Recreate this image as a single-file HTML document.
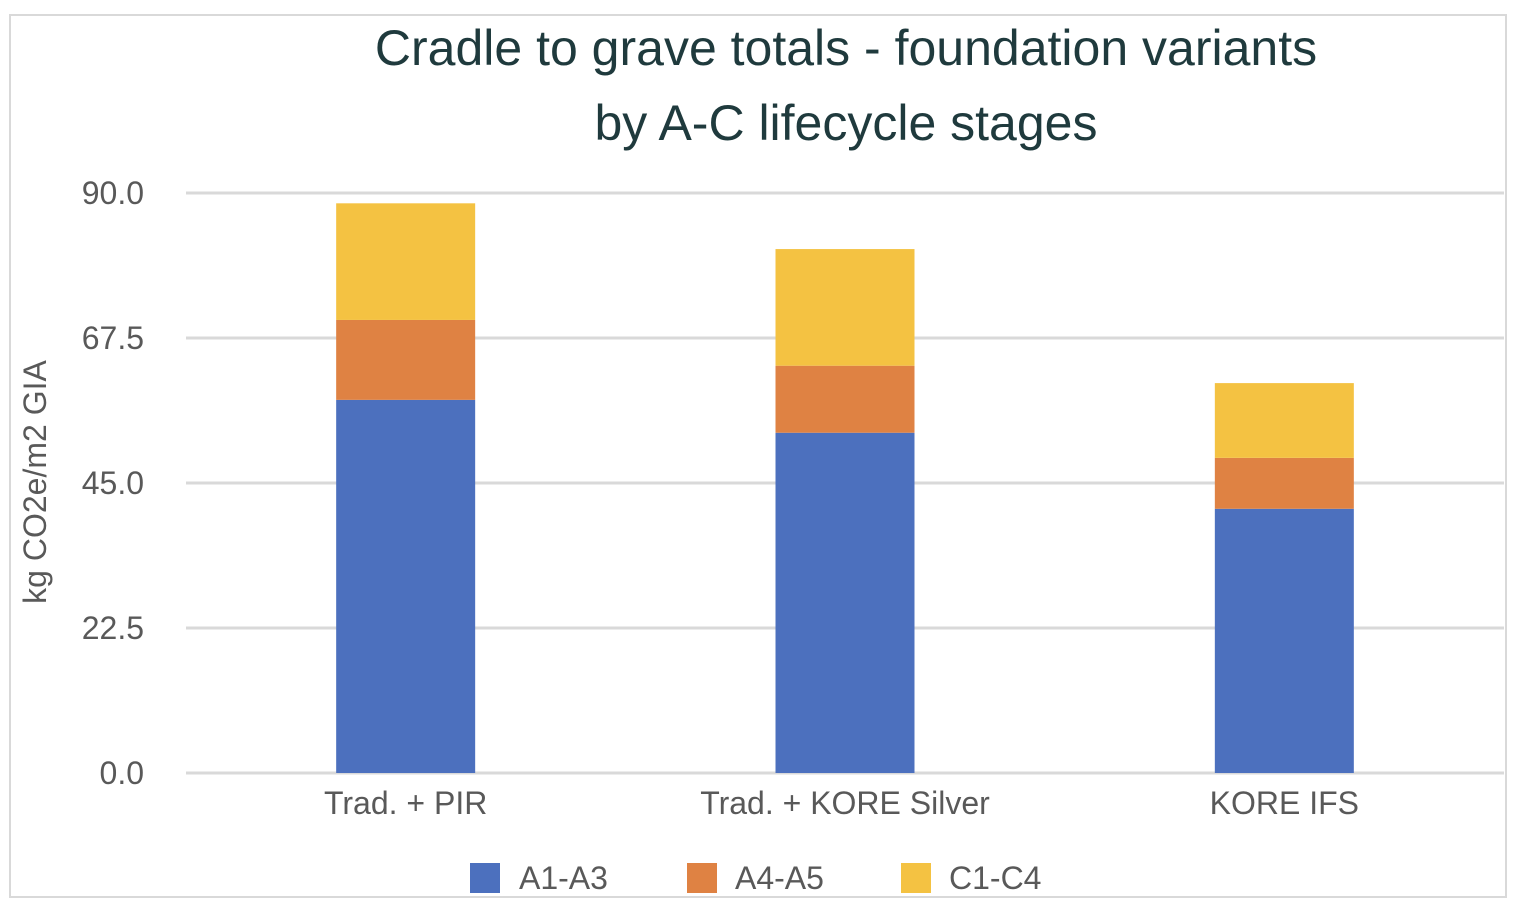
<!DOCTYPE html>
<html><head><meta charset="utf-8"><style>
body{margin:0;background:#fff;}
svg{display:block;font-family:"Liberation Sans",sans-serif;}
</style></head><body>
<svg id="c" width="1514" height="908">
<rect x="10" y="15" width="1496" height="882" fill="#fff" stroke="#d9d9d9" stroke-width="2"/>
<text x="846" y="65" text-anchor="middle" font-size="50" fill="#1f3a3d">Cradle to grave totals - foundation variants</text>
<text x="846" y="140" text-anchor="middle" font-size="50" fill="#1f3a3d">by A-C lifecycle stages</text>
<text transform="translate(46,482) rotate(-90)" text-anchor="middle" font-size="32" fill="#595959">kg CO2e/m2 GIA</text>
<g id="grid"></g><g id="bars"></g><g id="labels"></g>
<g>
<rect x="470" y="863" width="30" height="30" fill="#4c70be"/>
<text x="519" y="889" font-size="32" fill="#595959">A1-A3</text>
<rect x="687" y="863" width="30" height="30" fill="#df8243"/>
<text x="735" y="889" font-size="32" fill="#595959">A4-A5</text>
<rect x="901" y="863" width="30" height="30" fill="#f4c242"/>
<text x="949" y="889" font-size="32" fill="#595959">C1-C4</text>
</g>
</svg>
<script>
const categories=["Trad. + PIR","Trad. + KORE Silver","KORE IFS"];
const a1a3=[57.9,52.8,41.0];
const a4a5=[12.4,10.4,7.9];
const c1c4=[18.1,18.1,11.6];
const ticks=[0,22.5,45,67.5,90];
const tickLabels=["0.0","22.5","45.0","67.5","90.0"];
const ns="http://www.w3.org/2000/svg";
const x0=186,x1=1504,y0=773,y1=193,vmax=90;
const y=v=>y0-(v/vmax)*(y0-y1);
const band=(x1-x0)/categories.length;
const bw=139;
function mk(t,a,p){const e=document.createElementNS(ns,t);for(const k in a)e.setAttribute(k,a[k]);p.appendChild(e);return e;}
const grid=document.getElementById('grid'),bars=document.getElementById('bars'),labels=document.getElementById('labels');
ticks.forEach((t,i)=>{
 const l=mk('line',{x1:x0,x2:x1,y1:y(t),y2:y(t),stroke:'#d9d9d9','stroke-width':3},grid);
 
 
 const tx=mk('text',{x:144,y:y(t)+11,'text-anchor':'end','font-size':32,fill:'#595959'},labels);
 tx.textContent=tickLabels[i];
 
 
});
const series=[[a1a3,'#4c70be','a1-a3'],[a4a5,'#df8243','a4-a5'],[c1c4,'#f4c242','c1-c4']];
categories.forEach((c,i)=>{
 const cx=x0+band*(i+0.5);let base=0;
 series.forEach(s=>{
  const v=s[0][i];
  const r=mk('rect',{x:cx-bw/2,y:y(base+v),width:bw,height:y(base)-y(base+v),fill:s[1]},bars);
  
  
  base+=v;
 });
 const t=mk('text',{x:cx,y:814,'text-anchor':'middle','font-size':32,fill:'#595959'},labels);
 t.textContent=c;
 
 
});
</script>
</body></html>
